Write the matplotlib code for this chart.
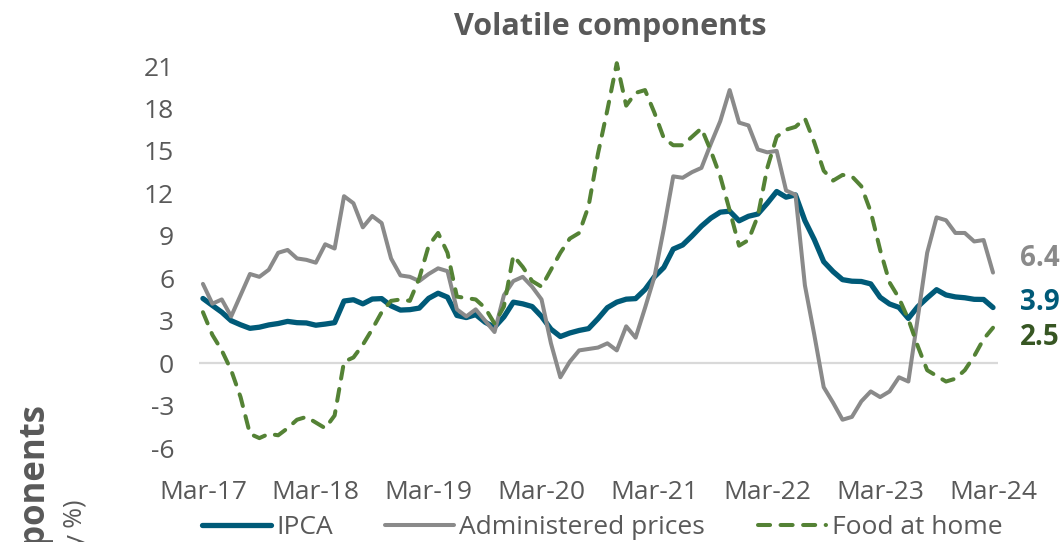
import matplotlib
matplotlib.use('Agg')
import matplotlib.pyplot as plt
import numpy as np
import pandas as pd

# monthly 12-month change, Mar-17 .. Mar-24
months = pd.date_range('2017-03-01', '2024-03-01', freq='MS')

ipca = [4.57, 4.08, 3.60, 3.00, 2.71, 2.46, 2.54, 2.70, 2.80, 2.95, 2.86, 2.84,
        2.68, 2.76, 2.86, 4.39, 4.48, 4.19, 4.53, 4.56, 4.05, 3.75, 3.78, 3.89,
        4.58, 4.94, 4.66, 3.37, 3.22, 3.43, 2.89, 2.54, 3.27, 4.31, 4.19, 4.00,
        3.30, 2.40, 1.88, 2.13, 2.31, 2.44, 3.14, 3.92, 4.31, 4.52, 4.56, 5.20,
        6.10, 6.76, 8.06, 8.35, 8.99, 9.68, 10.25, 10.67, 10.74, 10.06, 10.38, 10.54,
        11.30, 12.13, 11.73, 11.89, 10.07, 8.73, 7.17, 6.47, 5.90, 5.79, 5.77, 5.60,
        4.65, 4.18, 3.94, 3.16, 3.99, 4.61, 5.19, 4.82, 4.68, 4.62, 4.51, 4.50,
        3.93]

administered = [5.6, 4.2, 4.5, 3.3, 4.8, 6.3, 6.1, 6.6, 7.8, 8.0, 7.4, 7.3,
                7.1, 8.4, 8.1, 11.8, 11.3, 9.6, 10.4, 9.9, 7.4, 6.2, 6.1, 5.8,
                6.3, 6.7, 6.5, 3.8, 3.3, 3.8, 3.0, 2.2, 4.8, 5.8, 6.1, 5.4,
                4.5, 1.4, -1.0, 0.1, 0.9, 1.0, 1.1, 1.4, 0.9, 2.6, 1.8, 3.9,
                6.1, 9.5, 13.2, 13.1, 13.5, 13.8, 15.5, 17.1, 19.3, 17.0, 16.8, 15.1,
                14.9, 15.0, 12.2, 11.9, 5.5, 2.0, -1.7, -2.8, -4.0, -3.8, -2.7, -2.0,
                -2.4, -2.0, -1.0, -1.3, 3.2, 7.8, 10.3, 10.1, 9.2, 9.2, 8.6, 8.7,
                6.4]

food_at_home = [3.6, 2.0, 0.9, -0.5, -2.4, -5.0, -5.3, -5.0, -5.1, -4.6, -4.0, -3.8,
                -4.2, -4.6, -3.7, 0.1, 0.4, 1.3, 2.4, 3.6, 4.4, 4.5, 4.4, 6.0,
                8.3, 9.2, 7.8, 4.7, 4.6, 4.5, 3.9, 2.8, 4.0, 7.6, 6.8, 5.8,
                5.4, 6.6, 7.8, 8.8, 9.2, 11.1, 14.8, 17.9, 21.2, 18.2, 19.1, 19.3,
                17.7, 15.9, 15.4, 15.4, 16.0, 16.6, 15.0, 13.2, 10.8, 8.3, 8.7, 10.4,
                13.8, 16.0, 16.5, 16.7, 17.3, 15.6, 13.6, 12.9, 13.3, 13.2, 12.5, 10.7,
                8.0, 5.7, 4.6, 3.1, 1.2, -0.5, -0.9, -1.3, -1.1, -0.5, 0.5, 1.7,
                2.5]

y_ticks = list(range(-6, 22, 3))

TEAL = '#005A78'
GRAY = '#8A8A8A'
GREEN = '#548235'
TEXT = '#595959'


def main():
    plt.rcParams['font.family'] = ['Open Sans', 'DejaVu Sans']
    plt.rcParams['axes.unicode_minus'] = False

    fig = plt.figure(figsize=(10.64, 5.42), dpi=100)
    ax = fig.add_axes([0.1872, 0.1734, 0.7505, 0.7048])

    x = np.arange(len(months))
    ax.axhline(0, color='#D9D9D9', lw=1.6, zorder=1)
    ax.plot(x, ipca, color=TEAL, lw=3.8, solid_joinstyle='round',
            solid_capstyle='round', label='IPCA', clip_on=False, zorder=3)
    ax.plot(x, administered, color=GRAY, lw=2.9, solid_joinstyle='round',
            solid_capstyle='round', label='Administered prices', clip_on=False, zorder=4)
    ax.plot(x, food_at_home, color=GREEN, lw=2.9, dashes=(3.0, 2.6),
            dash_capstyle='round', dash_joinstyle='round',
            label='Food at home', clip_on=False, zorder=5)

    # end-of-series values
    end_labels = [(administered[-1], GRAY, 14), (ipca[-1], TEAL, 5),
                  (food_at_home[-1], '#375623', -10)]
    for val, col, dy in end_labels:
        ax.annotate(f'{val:.1f}', xy=(x[-1], val), xytext=(27, dy),
                    textcoords='offset pixels', color=col, fontsize=20,
                    fontweight='bold', va='center', ha='left')

    ax.set_xlim(-0.4, 84.5)
    ax.set_ylim(-6, 21)
    ax.set_yticks(y_ticks, labels=[str(t) for t in y_ticks])
    ax.set_xticks(x[::12], labels=months[::12].strftime('%b-%y'))
    ax.tick_params(axis='y', length=0, pad=18, labelsize=19, labelcolor=TEXT)
    ax.tick_params(axis='x', length=0, pad=23, labelsize=19, labelcolor=TEXT)
    for s in ax.spines.values():
        s.set_visible(False)

    fig.text(0.574, 0.950, 'Volatile components', ha='center', va='center',
             fontsize=22, fontweight='bold', color=TEXT)

    # axis title sits partly outside the canvas
    fig.text(0.034, 0.253, 'Volatile components', rotation=90, ha='center',
             va='top', fontsize=25, fontweight='bold', color=TEXT)
    fig.text(0.071, 0.078, '(12-month, y/y %)', rotation=90, ha='center',
             va='top', fontsize=18, color=TEXT)

    fig.legend(loc='center', bbox_to_anchor=(0.566, 0.027), ncol=3,
               frameon=False, fontsize=19, handlelength=2.6,
               handletextpad=0.2, columnspacing=2.0, labelcolor=TEXT)

    plt.savefig('out.png', dpi=100)


if __name__ == '__main__':
    main()
